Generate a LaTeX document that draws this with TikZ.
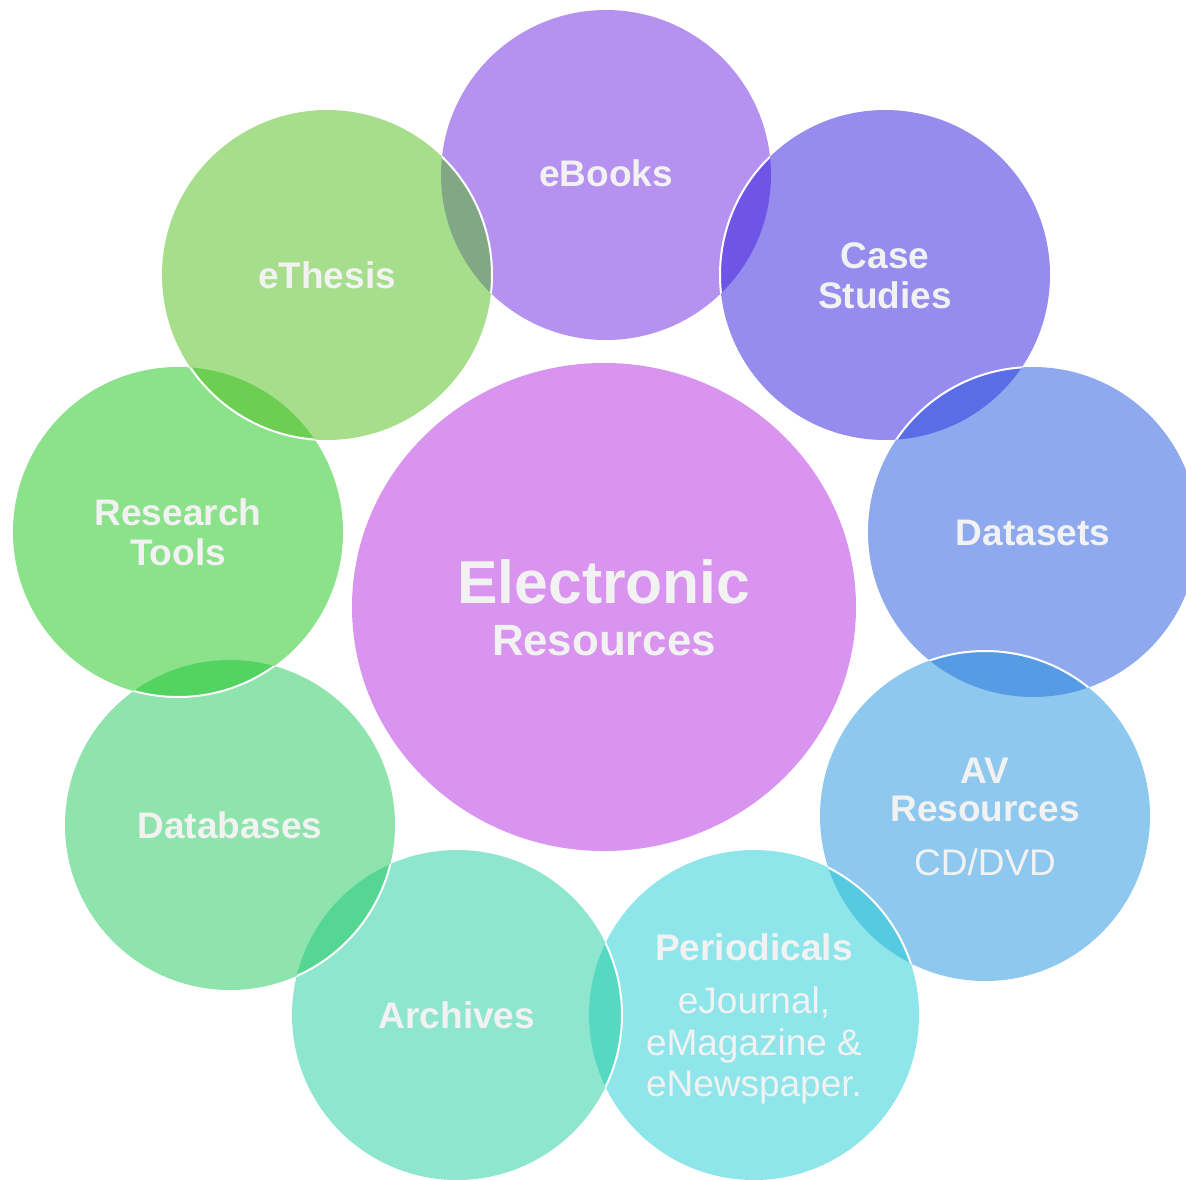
\documentclass[tikz,border=0pt]{standalone}
\usepackage{fontspec}
\setmainfont{Liberation Sans}
\usetikzlibrary{shapes.geometric}
\definecolor{cMain}{RGB}{217,148,240}
\definecolor{cEB}{RGB}{107,37,225}
\definecolor{cCS}{RGB}{43,25,221}
\definecolor{cDS}{RGB}{31,83,223}
\definecolor{cAV}{RGB}{31,145,221}
\definecolor{cPE}{RGB}{31,205,213}
\definecolor{cAR}{RGB}{31,205,157}
\definecolor{cDB}{RGB}{31,199,89}
\definecolor{cRT}{RGB}{25,195,23}
\definecolor{cTH}{RGB}{79,189,25}
\definecolor{txt}{RGB}{242,242,242}
\begin{document}
\begin{tikzpicture}[x=1pt,y=-1pt,
  bub/.style={circle, inner sep=0pt, minimum size=330pt, fill opacity=0.5, draw=none},
  rim/.style={draw=white, line width=2pt},
  lbl/.style={text=txt, font=\bfseries\fontsize{37}{42}\selectfont, anchor=base, inner sep=0pt},
  sublbl/.style={text=txt, font=\fontsize{37}{42}\selectfont, anchor=base, inner sep=0pt}]
\clip (0,0) rectangle (1186,1179);
\node[ellipse, inner sep=0pt, minimum width=504pt, minimum height=488pt, fill=cMain] (main) at (604,607) {};
\foreach \n/\x/\y/\c in {ebooks/606/175/cEB, cs/885/275/cCS, data/1033/532/cDS, av/985/816/cAV,
  per/754/1015/cPE, arch/457/1015/cAR, db/230/825/cDB, rt/178/532/cRT, thesis/327/275/cTH}
  \node[bub, fill=\c] (\n) at (\x,\y) {};
\foreach \lo/\hi in {ebooks/cs, cs/data, data/av, av/per, per/arch, arch/db, db/rt, rt/thesis, ebooks/thesis}{
  \begin{scope}
    \clip (\lo.center) circle[radius=165pt];
    \draw[rim] (\hi.center) circle[radius=165pt];
  \end{scope}
}
% labels
\node[text=txt, font=\bfseries\fontsize{60.6}{66}\selectfont, anchor=base, inner sep=0pt] (t1) at (604,603) {Electronic};
\node[text=txt, font=\bfseries\fontsize{43.8}{48}\selectfont, anchor=base, inner sep=0pt] (t2) at (604,655) {Resources};
\node[lbl] (l1) at (606,186) {eBooks};
\node[lbl] (l2a) at (885,268) {Case};
\node[lbl] (l2b) at (885,308) {Studies};
\node[lbl] (l3) at (1033,545) {Datasets};
\node[lbl] (l4a) at (985,783) {AV};
\node[lbl] (l4b) at (985,821) {Resources};
\node[sublbl] (l4c) at (985,875) {CD/DVD};
\node[lbl] (l5a) at (754,960) {Periodicals};
\node[sublbl] (l5b) at (754,1013) {eJournal,};
\node[sublbl] (l5c) at (754,1055) {eMagazine \&};
\node[sublbl] (l5d) at (754,1096) {eNewspaper.};
\node[lbl] (l6) at (457,1028) {Archives};
\node[lbl] (l7) at (230,838) {Databases};
\node[lbl] (l8a) at (178,525) {Research};
\node[lbl] (l8b) at (178,565) {Tools};
\node[lbl] (l9) at (327,288) {eThesis};
\end{tikzpicture}
\end{document}
